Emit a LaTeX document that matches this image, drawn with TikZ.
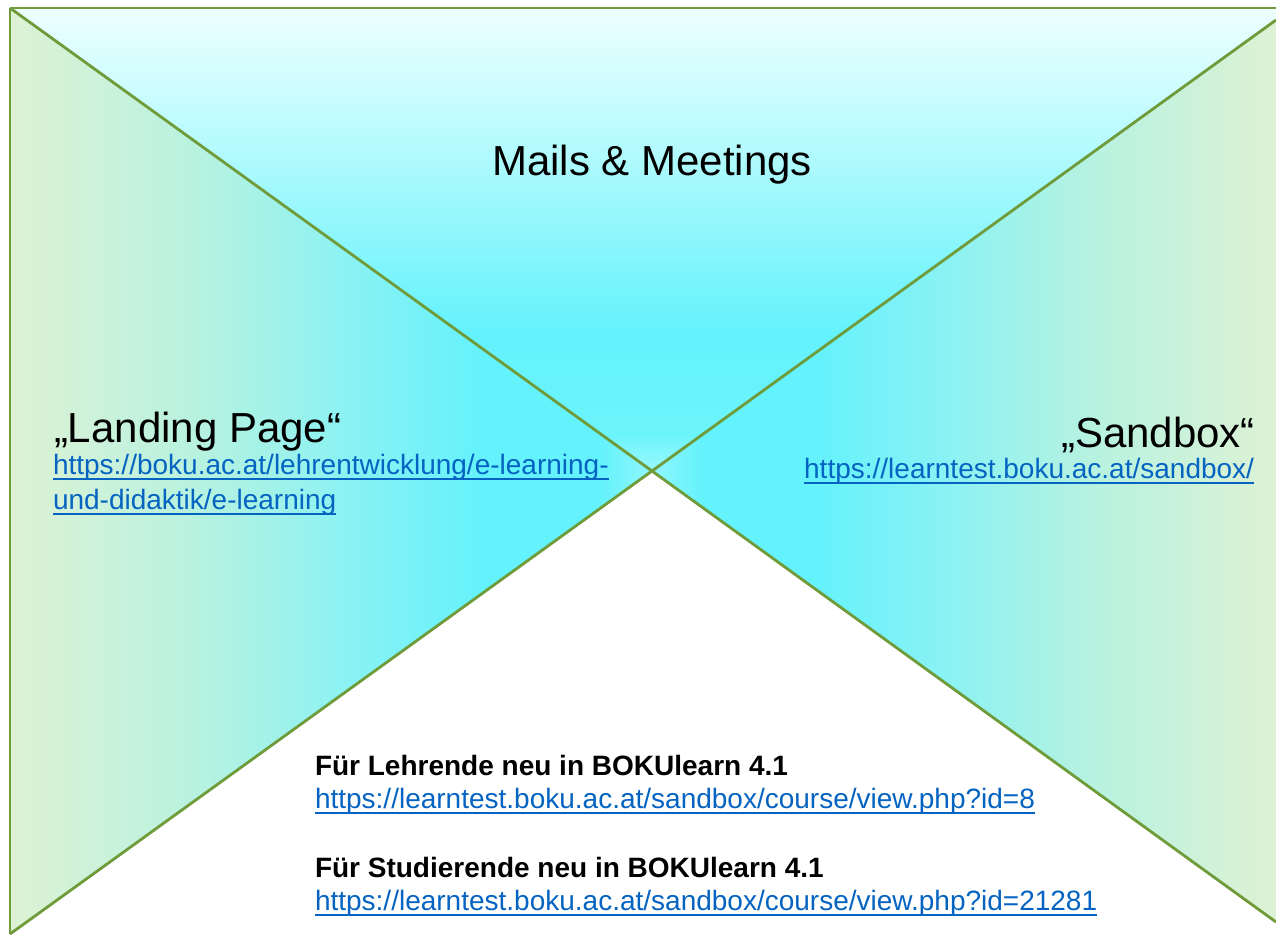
\documentclass[tikz,border=0pt]{standalone}
\usepackage{fontspec}
\setmainfont{Liberation Sans}
\definecolor{edgec}{HTML}{6F9B3A}
\definecolor{linkc}{HTML}{0563C1}
\definecolor{g0}{HTML}{DEF2D4}
\definecolor{g1}{HTML}{B6F2E0}
\definecolor{g2}{HTML}{88F2F4}
\definecolor{g3}{HTML}{64F2FC}
\definecolor{g4}{HTML}{92F6FC}
\definecolor{t0}{HTML}{98F8FC}
\definecolor{t1}{HTML}{6CF4FC}
\definecolor{t2}{HTML}{64F2FC}
\definecolor{t3}{HTML}{98F8FC}
\definecolor{t4}{HTML}{C4FCFE}
\definecolor{t5}{HTML}{EEFFFF}
\pgfdeclarehorizontalshading{leftsh}{100bp}{color(0bp)=(g0); color(25bp)=(g0); color(40bp)=(g1); color(52bp)=(g2); color(62bp)=(g3); color(71bp)=(g3); color(75bp)=(g4); color(100bp)=(g4)}
\pgfdeclarehorizontalshading{rightsh}{100bp}{color(0bp)=(g4); color(25bp)=(g4); color(29bp)=(g3); color(38bp)=(g3); color(48bp)=(g2); color(60bp)=(g1); color(75bp)=(g0); color(100bp)=(g0)}
\pgfdeclareverticalshading{topsh}{100bp}{color(0bp)=(t0); color(25bp)=(t0); color(29bp)=(t1); color(40bp)=(t2); color(53bp)=(t3); color(64bp)=(t4); color(75bp)=(t5); color(100bp)=(t5)}
\tikzset{
  edgeline/.style={draw=edgec, line width=2.8pt, line join=round},
  txt/.style={inner sep=0pt, outer sep=0pt, text=black},
  title/.style={txt, font=\fontsize{42}{50}\selectfont},
  urltxt/.style={txt, text=linkc, font=\fontsize{28}{34}\selectfont},
  boldtxt/.style={txt, font=\fontsize{28}{34}\selectfont\bfseries},
  ul/.style={draw=linkc, line width=2.2pt}
}
\begin{document}
\begin{tikzpicture}[x=1pt, y=-1pt]
\useasboundingbox[fill=white] (0,0) rectangle (1276,934);
\coordinate (TL) at (10,8);
\coordinate (TR) at (1276,8);
\coordinate (A) at (652,471);
\coordinate (BL) at (10,934);
\coordinate (RT) at (1276,20);
\coordinate (RB) at (1276,922);
% fills
\shade[shading=topsh] (TL) -- (TR) -- (RT) -- (A) -- cycle;
\shade[shading=leftsh] (TL) -- (A) -- (BL) -- cycle;
\shade[shading=rightsh] (RT) -- (A) -- (RB) -- cycle;
% edges
\draw[edgeline] (TL) -- (TR);
\draw[edgeline] (TL) -- (BL);
\draw[edgeline] (TL) -- (A) -- (BL);
\draw[edgeline] (RT) -- (A) -- (RB);
% texts
\node[title, anchor=base] (mm) at (652,175) {Mails \& Meetings};
\node[title, anchor=base west] (lp) at (54,442) {„Landing Page“};
\node[urltxt, anchor=base west] (u1a) at (53,474) {https://boku.ac.at/lehrentwicklung/e-learning-};
\node[urltxt, anchor=base west] (u1b) at (53,509) {und-didaktik/e-learning};
\node[title, anchor=base east] (sb) at (1255,447) {„Sandbox“};
\node[urltxt, anchor=base east] (u2) at (1254,478) {https://learntest.boku.ac.at/sandbox/};
\node[boldtxt, anchor=base west] (b1) at (315,775) {Für Lehrende neu in BOKUlearn 4.1};
\node[urltxt, anchor=base west] (u3) at (315,808) {https://learntest.boku.ac.at/sandbox/course/view.php?id=8};
\node[boldtxt, anchor=base west] (b2) at (315,877) {Für Studierende neu in BOKUlearn 4.1};
\node[urltxt, anchor=base west] (u4) at (315,910) {https://learntest.boku.ac.at/sandbox/course/view.php?id=21281};
% underlines
\foreach \n in {u1a,u1b,u2,u3,u4}{
  \draw[ul] ([yshift=-5pt]\n.base west) -- ([yshift=-5pt]\n.base east);
}
\end{tikzpicture}
\end{document}
